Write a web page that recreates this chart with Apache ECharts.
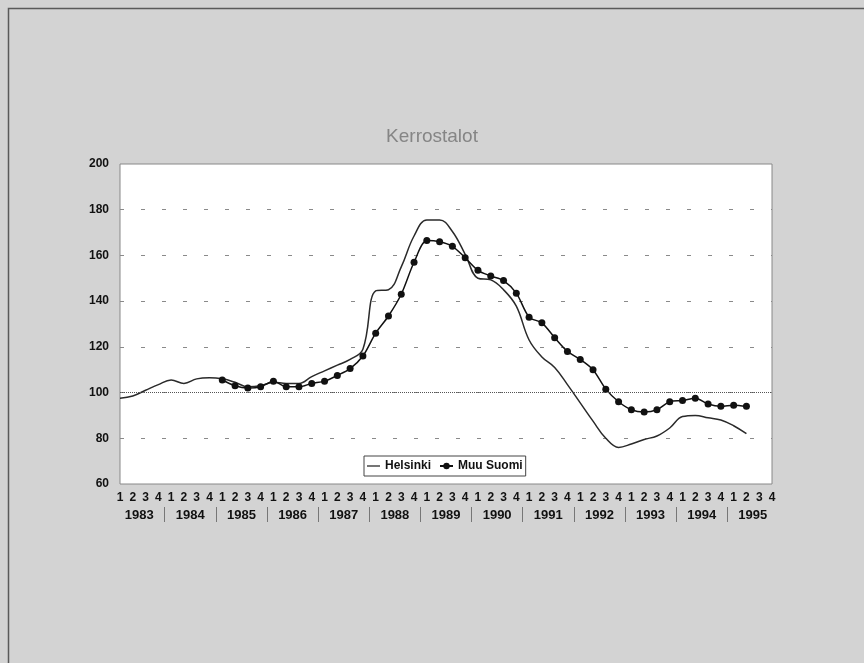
<!DOCTYPE html>
<html>
<head>
<meta charset="utf-8">
<script src="https://cdn.jsdelivr.net/npm/echarts@6/dist/echarts.min.js"></script>
<style>
html,body{margin:0;padding:0;background:#d3d3d3;}
#chart{width:864px;height:663px;}
</style>
</head>
<body>
<div id="chart"></div>
<script>
// ---- data ----
const quarterLabels = [
  '1','2','3','4','1','2','3','4','1','2','3','4','1','2','3','4',
  '1','2','3','4','1','2','3','4','1','2','3','4','1','2','3','4',
  '1','2','3','4','1','2','3','4','1','2','3','4','1','2','3','4',
  '1','2','3','4'
];
const years = ['1983','1984','1985','1986','1987','1988','1989','1990','1991','1992','1993','1994','1995'];
const helsinki = [
  97.5, 98.5, 101, 103.5, 105.5, 104, 106, 106.5,
  106, 104.5, 102.5, 103, 104.5, 104, 104, 107,
  109.5, 112, 114.5, 119, 144.5, 145, 155, 168.5,
  175.5, 175.5, 170.5, 160.5, 150, 149.3, 145, 137.8,
  123, 115.6, 111, 103.5, 95.5, 87.5, 80, 76,
  77.5, 79.5, 81, 84.5, 89.5, 90, 89, 88,
  85.5, 82
];
const muuSuomi = [
  null, null, null, null, null, null, null, null,
  105.5, 103, 102, 102.5, 105, 102.5, 102.5, 104,
  105, 107.5, 110.5, 116, 126, 133.5, 143, 157,
  166.5, 166, 164, 159, 153.5, 151, 149, 143.5,
  133, 130.5, 124, 118, 114.5, 110, 101.5, 96,
  92.5, 91.5, 92.5, 96, 96.5, 97.5, 95, 94,
  94.5, 94
];
const referenceLevel = 100;
const yMin = 60, yMax = 200, yStep = 20;

// ---- layout ----
const W = 864;
const gridLeft = 120, gridRight = 92, gridTop = 164, gridBottom = 179;
const qStep = (W - gridLeft - gridRight) / (quarterLabels.length - 1);
const fontFam = '"Liberation Sans", Arial, sans-serif';
// plain line legend icon (bounding box 13x8, thin bar in the middle)
const lineIcon = 'path://M0,0 M13,8 M0,3.35 L13,3.35 L13,4.65 L0,4.65 Z';

const chart = echarts.init(document.getElementById('chart'), null, {renderer: 'canvas'});
chart.setOption({
  animation: false,
  backgroundColor: '#d3d3d3',
  textStyle: {fontFamily: fontFam},
  title: {
    text: 'Kerrostalot',
    left: 'center',
    top: 127,
    padding: [0, 0, 0, 14],
    textStyle: {color: '#858585', fontSize: 19, fontWeight: 'normal', fontFamily: fontFam}
  },
  graphic: [{
    type: 'rect', silent: true, z: 0,
    shape: {x: 8.5, y: 8.5, width: 900, height: 700},
    style: {fill: 'none', stroke: '#5a5a5a', lineWidth: 1.5}
  }],
  legend: {
    data: [
      {name: 'Helsinki', icon: lineIcon},
      {name: 'Muu Suomi'}
    ],
    left: 364, top: 456,
    backgroundColor: '#fff',
    borderColor: '#444', borderWidth: 1, borderRadius: 0,
    padding: [4, 3, 4, 3],
    itemGap: 8, itemWidth: 13, itemHeight: 8,
    textStyle: {fontSize: 12, fontWeight: 'bold', color: '#111', fontFamily: fontFam}
  },
  grid: [
    {left: gridLeft, right: gridRight, top: gridTop, bottom: gridBottom,
     show: true, backgroundColor: '#fff', borderColor: '#888', borderWidth: 1},
    {left: gridLeft - qStep / 2, right: gridRight - qStep / 2, top: 507, height: 15}
  ],
  xAxis: [
    {
      type: 'category', gridIndex: 0, data: quarterLabels, boundaryGap: false,
      axisLine: {show: false}, axisTick: {show: false}, splitLine: {show: false},
      axisLabel: {interval: 0, hideOverlap: false, fontSize: 12, fontWeight: 'bold', color: '#111', margin: 8, fontFamily: fontFam}
    },
    {
      type: 'category', gridIndex: 1, data: years, boundaryGap: true, position: 'bottom',
      axisLine: {show: false}, axisTick: {show: false},
      splitLine: {show: true, interval: 0, showMinLine: false, showMaxLine: false,
                  lineStyle: {color: '#777', width: 1}},
      axisLabel: {interval: 0, fontSize: 13, fontWeight: 'bold', color: '#111', margin: -7,
                  verticalAlign: 'middle', fontFamily: fontFam}
    }
  ],
  yAxis: [
    {
      type: 'value', gridIndex: 0, min: yMin, max: yMax, interval: yStep,
      axisLine: {show: false}, axisTick: {show: false},
      axisLabel: {fontSize: 12, fontWeight: 'bold', color: '#111', margin: 11, fontFamily: fontFam},
      splitLine: {show: true, showMinLine: false, showMaxLine: false,
                  lineStyle: {color: '#8a8a8a', width: 1, type: [4, 17]}}
    },
    {type: 'value', gridIndex: 1, show: false}
  ],
  series: [
    {
      name: 'Helsinki', type: 'line', xAxisIndex: 0, yAxisIndex: 0,
      data: helsinki, smooth: 0.4, symbol: 'none', showSymbol: false,
      lineStyle: {color: '#2a2a2a', width: 1.5}, itemStyle: {color: '#2a2a2a'},
      markLine: {
        silent: true, symbol: 'none', label: {show: false},
        lineStyle: {color: '#555', width: 1, type: 'dotted'},
        data: [{yAxis: referenceLevel}]
      },
      z: 3
    },
    {
      name: 'Muu Suomi', type: 'line', xAxisIndex: 0, yAxisIndex: 0,
      data: muuSuomi, smooth: 0.3, symbol: 'circle', symbolSize: 7, showSymbol: true,
      lineStyle: {color: '#111', width: 1.5}, itemStyle: {color: '#111'},
      z: 4
    }
  ]
});
</script>
</body>
</html>
